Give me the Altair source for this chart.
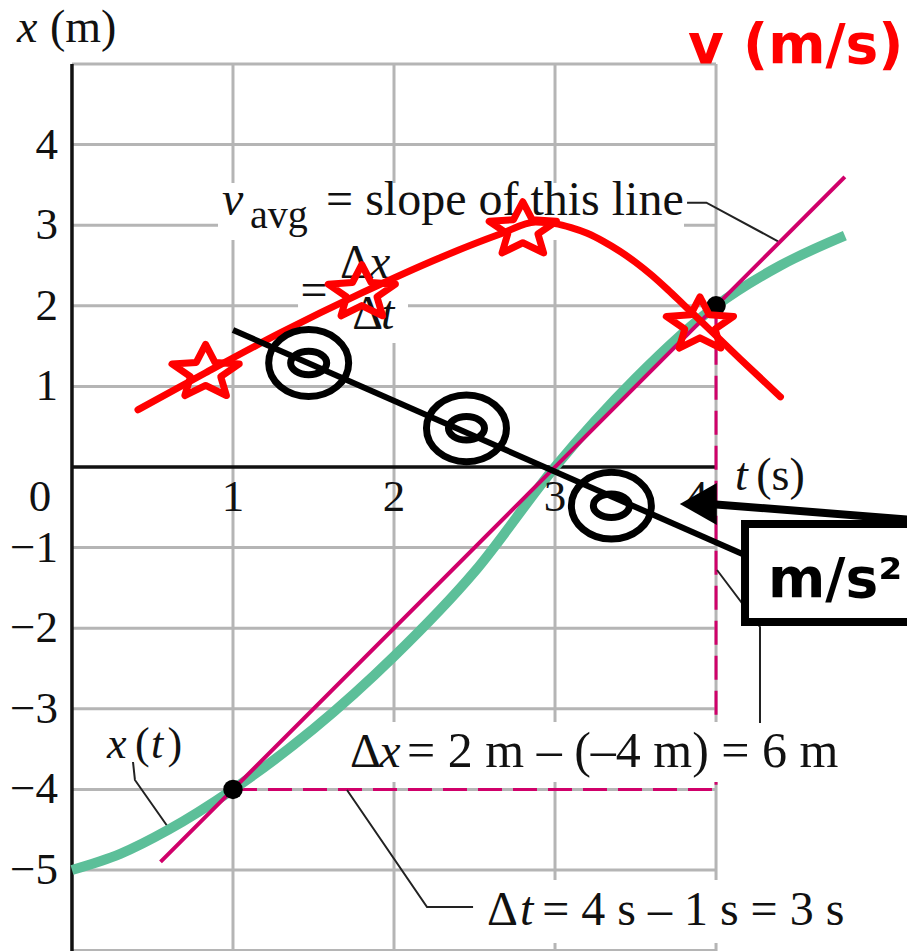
import math
import altair as alt
import pandas as pd

# ---------------- data ----------------
# visible window (time in s, position in m)
T_MIN, T_MAX = -0.447, 5.186
X_MIN, X_MAX = -6.005, 5.794

# position curve x(t)
curve_t = [0.0, 0.3, 0.6, 1.0, 1.5, 2.0, 2.5, 3.0, 3.5, 4.0, 4.4, 4.8]
curve_x = [-5.0, -4.8, -4.5, -4.0, -3.25, -2.35, -1.3, 0.0, 1.1, 2.0, 2.5, 2.87]

# secant line through (1 s, -4 m) and (4 s, 2 m)
secant_t = [0.55, 1.0, 4.0, 4.8]
secant_x = [-4.9, -4.0, 2.0, 3.6]

endpoint_t = [1, 4]
endpoint_x = [-4, 2]

# hand-sketched velocity curve with star markers
vel_t = [0.41, 0.83, 1.29, 1.80, 2.29, 2.66, 2.88, 3.0, 3.1, 3.2, 3.3, 3.4, 3.5,
         3.6, 3.7, 3.8, 3.9, 4.15, 4.40]
vel_v = [0.71, 1.17, 1.66, 2.16, 2.60, 2.89, 3.04, 3.02, 2.97, 2.90, 2.80, 2.68, 2.54,
         2.38, 2.20, 2.01, 1.82, 1.34, 0.87]
star_t = [0.83, 1.80, 2.80, 3.90]
star_v = [1.17, 2.16, 2.94, 1.76]

# hand-sketched acceleration line with ring markers
acc_t = [1.0, 4.21]
acc_a = [1.70, -1.12]
ring_t = [1.47, 2.45, 3.35]
ring_a = [1.29, 0.48, -0.48]

# axes
y_ticks = [4, 3, 2, 1, -1, -2, -3, -4, -5]
x_ticks = [1, 2, 3, 4]
x_tick_pos = [1, 2, 3, 3.88]
grid_y = [5, 4, 3, 2, 1, -1, -2, -3, -4, -5, -6]
grid_t = [1, 2, 3, 4]

# ---------------- helpers ----------------
XS = alt.Scale(domain=[T_MIN, T_MAX], nice=False, zero=False)
YS = alt.Scale(domain=[X_MIN, X_MAX], nice=False, zero=False)


def X(f):
    return alt.X(f, type="quantitative", scale=XS, axis=None)


def Y(f):
    return alt.Y(f, type="quantitative", scale=YS, axis=None)


def star_path(inner=0.45, squash=0.8):
    pts = []
    for k in range(10):
        a = math.radians(-90 + 36 * k)
        r = 1.0 if k % 2 == 0 else inner
        pts.append(f"{r * math.cos(a):.4f},{r * math.sin(a) * squash:.4f}")
    return "M" + "L".join(pts) + "Z"


def ellipse_path(ry):
    return f"M-1,0A1,{ry},0,1,0,1,0A1,{ry},0,1,0,-1,0Z"


GRID = "#b5b5b5"
MAGENTA = "#d0006a"
GREEN = "#5cbf99"
SERIF = "Liberation Serif"

# ---------------- layers ----------------
grid_df = pd.DataFrame(
    [{"t1": 0, "t2": 4, "y1": g, "y2": g} for g in grid_y]
    + [{"t1": g, "t2": g, "y1": 5, "y2": X_MIN - 0.2} for g in grid_t]
)
grid = alt.Chart(grid_df).mark_rule(color=GRID, strokeWidth=3).encode(
    x=X("t1"), x2="t2", y=Y("y1"), y2="y2"
)

axes_df = pd.DataFrame([
    {"t1": 0, "t2": 0, "y1": 5, "y2": X_MIN - 0.2},
    {"t1": 0, "t2": 4, "y1": 0, "y2": 0},
])
axes = alt.Chart(axes_df).mark_rule(color="#111111", strokeWidth=3.5).encode(
    x=X("t1"), x2="t2", y=Y("y1"), y2="y2"
)

dash_df = pd.DataFrame([
    {"t1": endpoint_t[0], "t2": endpoint_t[1], "y1": endpoint_x[0], "y2": endpoint_x[0]},
    {"t1": endpoint_t[1], "t2": endpoint_t[1], "y1": endpoint_x[1], "y2": endpoint_x[0]},
])
dashes = alt.Chart(dash_df).mark_rule(
    color=MAGENTA, strokeWidth=3, strokeDash=[24, 11]
).encode(x=X("t1"), x2="t2", y=Y("y1"), y2="y2")

# white panels behind the annotation text
bg_df = pd.DataFrame([
    {"t1": 0.907, "t2": 3.801, "y1": 3.524, "y2": 2.816},
    {"t1": 1.404, "t2": 2.087, "y1": 2.891, "y2": 1.538},
    {"t1": 1.696, "t2": 4.832, "y1": -3.164, "y2": -3.908},
    {"t1": 2.522, "t2": 4.832, "y1": -5.124, "y2": -5.906},
])
bgs = alt.Chart(bg_df).mark_rect(fill="white").encode(
    x=X("t1"), x2="t2", y=Y("y1"), y2="y2"
)

leader_pts = [
    (0, 3.82, 3.28), (0, 3.94, 3.28), (0, 4.385, 2.80),
    (1, 0.379, -3.660), (1, 0.391, -3.883), (1, 0.596, -4.467),
    (2, 1.708, -4.007), (2, 2.205, -5.459), (2, 2.491, -5.459),
    (3, 4.006, -1.278), (3, 4.273, -1.985), (3, 4.273, -3.176),
]
leader_df = pd.DataFrame(
    [{"seg": s, "i": i, "t": t, "y": y} for i, (s, t, y) in enumerate(leader_pts)]
)
leaders = alt.Chart(leader_df).mark_line(color="#222222", strokeWidth=2).encode(
    x=X("t"), y=Y("y"), detail="seg:N", order="i:Q"
)

curve = alt.Chart(pd.DataFrame({"t": curve_t, "x": curve_x})).mark_line(
    color=GREEN, strokeWidth=10, interpolate="monotone", strokeCap="butt"
).encode(x=X("t"), y=Y("x"))

secant = alt.Chart(pd.DataFrame({"t": secant_t, "x": secant_x})).mark_line(
    color=MAGENTA, strokeWidth=4
).encode(x=X("t"), y=Y("x"))

dots = alt.Chart(pd.DataFrame({"t": endpoint_t, "x": endpoint_x})).mark_point(
    shape="circle", filled=True, color="black", size=380, opacity=1
).encode(x=X("t"), y=Y("x"))

# text labels
regular = pd.DataFrame([
    {"label": "(m)", "t": -0.137, "y": 5.273, "size": 46},
    {"label": "(s)", "t": 4.25, "y": -0.285, "size": 46},
    {"label": "avg", "t": 1.106, "y": 2.965, "size": 40},
    {"label": "= slope of this line", "t": 1.578, "y": 3.127, "size": 48},
    {"label": "=", "t": 1.42, "y": 2.00, "size": 48},
    {"label": "Δ", "t": 1.665, "y": 2.34, "size": 48},
    {"label": "Δ", "t": 1.74, "y": 1.71, "size": 48},
    {"label": "(", "t": 0.391, "y": -3.610, "size": 44},
    {"label": ")", "t": 0.593, "y": -3.610, "size": 44},
    {"label": "Δ", "t": 1.727, "y": -3.722, "size": 48},
    {"label": "= 2 m – (–4 m) = 6 m", "t": 2.081, "y": -3.722, "size": 50},
    {"label": "Δ", "t": 2.578, "y": -5.682, "size": 48},
    {"label": "= 4 s – 1 s = 3 s", "t": 2.92, "y": -5.682, "size": 48},
])
italic = pd.DataFrame([
    {"label": "x", "t": -0.342, "y": 5.273, "size": 46},
    {"label": "t", "t": 4.118, "y": -0.285, "size": 46},
    {"label": "v", "t": 0.932, "y": 3.127, "size": 48},
    {"label": "x", "t": 1.845, "y": 2.34, "size": 48},
    {"label": "t", "t": 1.92, "y": 1.71, "size": 48},
    {"label": "x", "t": 0.217, "y": -3.610, "size": 44},
    {"label": "t", "t": 0.491, "y": -3.610, "size": 44},
    {"label": "x", "t": 1.908, "y": -3.722, "size": 48},
    {"label": "t", "t": 2.782, "y": -5.682, "size": 48},
])
text_reg = alt.Chart(regular).mark_text(
    font=SERIF, align="left", baseline="alphabetic", color="#111111"
).encode(x=X("t"), y=Y("y"), text="label:N", size=alt.Size("size:Q", scale=None))
text_it = alt.Chart(italic).mark_text(
    font=SERIF, fontStyle="italic", align="left", baseline="alphabetic", color="#111111"
).encode(x=X("t"), y=Y("y"), text="label:N", size=alt.Size("size:Q", scale=None))

ytick_df = pd.DataFrame({
    "y": y_ticks,
    "label": [str(v).replace("-", "−") for v in y_ticks],
    "t": [-0.087] * len(y_ticks),
})
ytick_text = alt.Chart(ytick_df).mark_text(
    font=SERIF, fontSize=45, align="right", baseline="middle", color="#111111"
).encode(x=X("t"), y=Y("y"), text="label:N")

xtick_df = pd.DataFrame({
    "t": x_tick_pos + [-0.199],
    "label": [str(v) for v in x_ticks] + ["0"],
    "y": [-0.372] * (len(x_ticks) + 1),
})
xtick_text = alt.Chart(xtick_df).mark_text(
    font=SERIF, fontSize=45, align="center", baseline="middle", color="#111111"
).encode(x=X("t"), y=Y("y"), text="label:N")

# velocity sketch
vel_line = alt.Chart(pd.DataFrame({"t": vel_t, "v": vel_v})).mark_line(
    color="#ff0000", strokeWidth=7, interpolate="monotone", strokeCap="round"
).encode(x=X("t"), y=Y("v"))
stars = alt.Chart(pd.DataFrame({"t": star_t, "v": star_v})).mark_point(
    shape=star_path(), filled=False, color="#ff0000", strokeWidth=7,
    size=5000, opacity=1, strokeJoin="round"
).encode(x=X("t"), y=Y("v"))

# acceleration sketch
acc_line = alt.Chart(pd.DataFrame({"t": acc_t, "a": acc_a})).mark_line(
    color="black", strokeWidth=6
).encode(x=X("t"), y=Y("a"))
ring_df = pd.DataFrame({"t": ring_t, "a": ring_a})
rings_outer = alt.Chart(ring_df).mark_point(
    shape=ellipse_path(0.835), filled=False, color="black", strokeWidth=7,
    size=6400, opacity=1
).encode(x=X("t"), y=Y("a"))
rings_inner = alt.Chart(ring_df).mark_point(
    shape=ellipse_path(0.65), filled=False, color="black", strokeWidth=7,
    size=1300, opacity=1
).encode(x=X("t"), y=Y("a"))

# unit box with arrow
box = alt.Chart(pd.DataFrame([{"t1": 4.18, "t2": 5.6, "y1": -0.707, "y2": -1.923}])).mark_rect(
    fill="white", stroke="black", strokeWidth=8
).encode(x=X("t1"), x2="t2", y=Y("y1"), y2="y2")
box_text = alt.Chart(pd.DataFrame([{"label": "m/s²", "t": 4.323, "y": -1.613}])).mark_text(
    font="DejaVu Sans", fontWeight="bold", fontSize=55, align="left",
    baseline="alphabetic", color="black"
).encode(x=X("t"), y=Y("y"), text="label:N")

arrow_line = alt.Chart(pd.DataFrame({"t": [5.3, 3.96], "y": [-0.668, -0.459]})).mark_line(
    color="black", strokeWidth=8
).encode(x=X("t"), y=Y("y"))
arrow_head = alt.Chart(pd.DataFrame({"t": [3.89], "y": [-0.459]})).mark_point(
    shape="M-1,0L1,-1.13L1,1.13Z", filled=True, color="black", size=1369, opacity=1
).encode(x=X("t"), y=Y("y"))

v_title = alt.Chart(pd.DataFrame([{"label": "v (m/s)", "t": 3.826, "y": 5.01}])).mark_text(
    font="DejaVu Sans", fontWeight="bold", fontSize=55, align="left",
    baseline="alphabetic", color="#ff0000"
).encode(x=X("t"), y=Y("y"), text="label:N")

chart = alt.layer(
    grid, axes, dashes, bgs, leaders, curve, secant, dots,
    text_reg, text_it, ytick_text, xtick_text,
    vel_line, stars, acc_line, rings_outer, rings_inner,
    box, box_text, arrow_line, arrow_head, v_title,
).properties(
    width=907, height=951, padding=0,
    autosize=alt.AutoSizeParams(type="none"), background="white",
).configure_view(stroke=None)

chart.save("out.html", embed_options={"renderer": "svg", "actions": False})
